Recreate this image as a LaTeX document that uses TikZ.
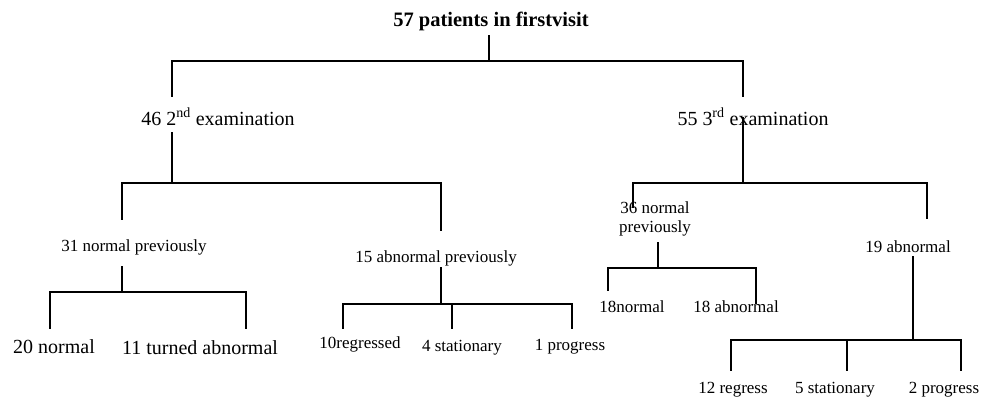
\documentclass[tikz,border=0pt]{standalone}
\usepackage{fontspec}
\setmainfont{Liberation Serif}
\begin{document}
\begin{tikzpicture}[x=1pt,y=-1pt,
  lbl/.style={inner sep=0pt, font=\fontsize{17}{19}\selectfont},
  big/.style={inner sep=0pt, font=\fontsize{20}{22}\selectfont},
  conn/.style={line width=1.4pt, line cap=rect}]
\useasboundingbox (0,0) rectangle (982,398);
% texts
\node[big, font=\fontsize{20.5}{22}\selectfont\bfseries] (T) at (491,21) {57 patients in firstvisit};
\node[big] (E2) at (218,117) {46 2\textsuperscript{nd} examination};
\node[big] (E3) at (753,117) {55 3\textsuperscript{rd} examination};
\node[lbl] (N31) at (134,247) {31 normal previously};
\node[lbl] (A15) at (436,258) {15 abnormal previously};
\node[big] (L20) at (54,347) {20 normal};
\node[big] (L11) at (200,348) {11 turned abnormal};
\node[lbl] (R10) at (360,344) {10regressed};
\node[lbl] (S4) at (462,348) {4 stationary};
\node[lbl] (P1) at (570,347) {1 progress};
\node[lbl, align=center] (N36) at (655,219) {36 normal\\previously};
\node[lbl] (A19) at (908,247) {19 abnormal};
\node[lbl] (N18) at (632,307) {18normal};
\node[lbl] (A18) at (736,307) {18 abnormal};
\node[lbl] (R12) at (733,390) {12 regress};
\node[lbl] (S5) at (835,390) {5 stationary};
\node[lbl] (P2) at (944,390) {2 progress};
% junction coordinates
\coordinate (t0) at (489,36);
\coordinate (t1) at (489,61);
\coordinate (b0l) at (172,61);
\coordinate (b0r) at (743,61);
\coordinate (e2a) at (172,96);
\coordinate (e3a) at (743,96);
% left subtree
\coordinate (e2b) at (172,133);
\coordinate (e2c) at (172,183);
\coordinate (b1l) at (122,183);
\coordinate (b1r) at (441,183);
\coordinate (n31a) at (122,219);
\coordinate (a15a) at (441,230);
\coordinate (n31b) at (122,267);
\coordinate (n31c) at (122,292);
\coordinate (b2l) at (50,292);
\coordinate (b2r) at (246,292);
\coordinate (l20a) at (50,328);
\coordinate (l11a) at (246,328);
\coordinate (a15b) at (441,268);
\coordinate (a15c) at (441,304);
\coordinate (b3l) at (343,304);
\coordinate (b3m) at (452,304);
\coordinate (b3r) at (572,304);
\coordinate (r10a) at (343,328);
\coordinate (s4a) at (452,328);
\coordinate (p1a) at (572,328);
% right subtree
\coordinate (e3b) at (743,118);
\coordinate (e3c) at (743,183);
\coordinate (b4l) at (633,183);
\coordinate (b4r) at (927,183);
\coordinate (n36a) at (633,207);
\coordinate (a19a) at (927,218);
\coordinate (n36b) at (658,243);
\coordinate (n36c) at (658,268);
\coordinate (b5l) at (608,268);
\coordinate (b5r) at (756,268);
\coordinate (n18a) at (608,290);
\coordinate (a18a) at (756,303);
\coordinate (a19b) at (913,257);
\coordinate (a19c) at (913,340);
\coordinate (b6l) at (731,340);
\coordinate (b6m) at (847,340);
\coordinate (b6r) at (961,340);
\coordinate (r12a) at (731,370);
\coordinate (s5a) at (847,370);
\coordinate (p2a) at (961,370);
% connectors
\draw[conn] (t0) -- (t1);
\draw[conn] (b0l) -- (b0r);
\draw[conn] (b0l) -- (e2a);
\draw[conn] (b0r) -- (e3a);
\draw[conn] (e2b) -- (e2c);
\draw[conn] (b1l) -- (b1r);
\draw[conn] (b1l) -- (n31a);
\draw[conn] (b1r) -- (a15a);
\draw[conn] (n31b) -- (n31c);
\draw[conn] (b2l) -- (b2r);
\draw[conn] (b2l) -- (l20a);
\draw[conn] (b2r) -- (l11a);
\draw[conn] (a15b) -- (a15c);
\draw[conn] (b3l) -- (b3r);
\draw[conn] (b3l) -- (r10a);
\draw[conn] (b3m) -- (s4a);
\draw[conn] (b3r) -- (p1a);
\draw[conn] (e3b) -- (e3c);
\draw[conn] (b4l) -- (b4r);
\draw[conn] (b4l) -- (n36a);
\draw[conn] (b4r) -- (a19a);
\draw[conn] (n36b) -- (n36c);
\draw[conn] (b5l) -- (b5r);
\draw[conn] (b5l) -- (n18a);
\draw[conn] (b5r) -- (a18a);
\draw[conn] (a19b) -- (a19c);
\draw[conn] (b6l) -- (b6r);
\draw[conn] (b6l) -- (r12a);
\draw[conn] (b6m) -- (s5a);
\draw[conn] (b6r) -- (p2a);
\end{tikzpicture}
\end{document}
